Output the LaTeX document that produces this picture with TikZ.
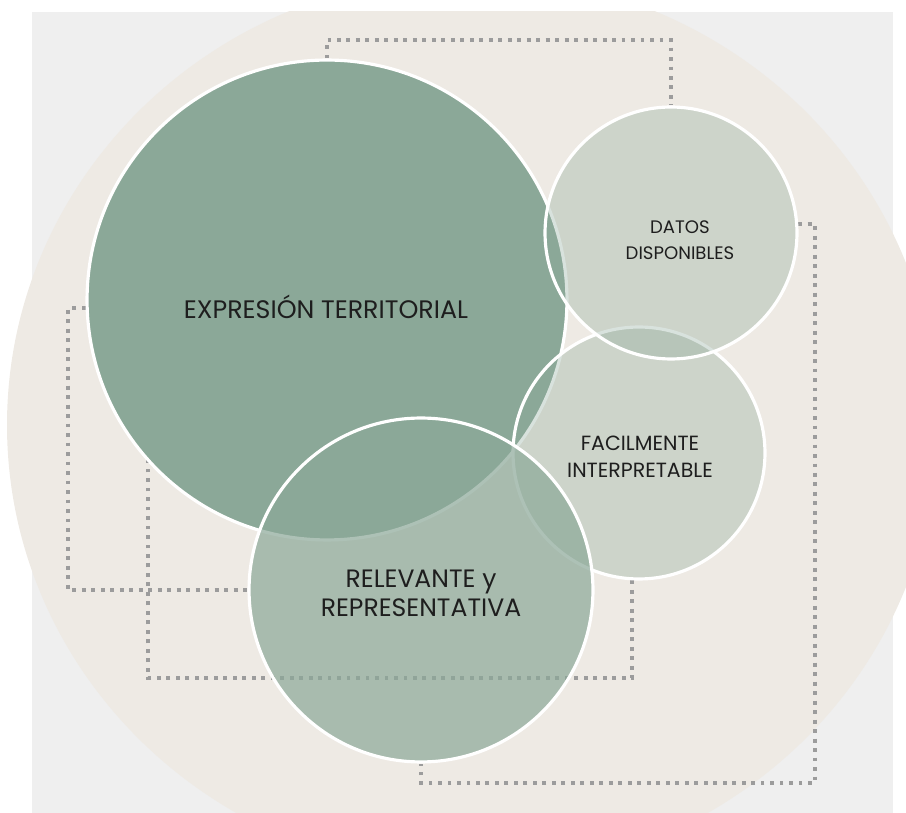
\documentclass[tikz,border=0pt]{standalone}
\usepackage{fontspec}
\setmainfont{Poppins}
\definecolor{bggray}{HTML}{EFEFEF}
\definecolor{beige}{HTML}{EEEAE4}
\definecolor{sage}{HTML}{8BA898}
\definecolor{dotgray}{HTML}{9C9C9C}
\definecolor{txt}{HTML}{1E1E1E}
\pgfdeclarelayer{back}
\pgfdeclarelayer{links}
\pgfsetlayers{back,links,main}
\begin{document}
\begin{tikzpicture}[x=0.02cm,y=-0.02cm,
  bubble/.style={circle, draw=white, line width=1.8pt, inner sep=0pt, fill=sage},
  lbl/.style={align=center, text=txt, inner sep=0pt},
  conn/.style={draw=dotgray, line width=2.2pt, dash pattern=on 2.2pt off 3.2pt},
]
\useasboundingbox (0,0) rectangle (906,813);
\begin{pgfonlayer}{back}
\fill[bggray] (32,12) rectangle (893,813);
\begin{scope}
  \clip (0,12) rectangle (906,813);
  \fill[beige] (472,425) ellipse [x radius=465, y radius=450];
\end{scope}
\end{pgfonlayer}
% connector corners
\coordinate (a1) at (327,40);
\coordinate (b1) at (815,783);
\coordinate (c1) at (68,590);
\coordinate (d1) at (148,678);
% circles
\node[bubble, minimum size=9.6cm] (big) at (327,300) {};
\node[bubble, fill opacity=0.33, minimum size=5.04cm] (facil) at (639,453) {};
\node[bubble, fill opacity=0.33, minimum size=5.04cm] (datos) at (671,233) {};
\node[bubble, fill opacity=0.7, minimum size=6.88cm] (relev) at (421,590) {};
% texts
\node[lbl, font=\fontsize{14.4}{17}\selectfont] (bigtext) at (326,307) {EXPRESIÓN TERRITORIAL};
\node[lbl, font=\fontsize{10.3}{14.7}\selectfont] (datostext) at (680,240) {DATOS\\DISPONIBLES};
\node[lbl, font=\fontsize{11.7}{15.3}\selectfont] (faciltext) at (640,457) {FACILMENTE\\INTERPRETABLE};
\node[lbl, font=\fontsize{14.3}{16.4}\selectfont] (relevtext) at (421,593) {RELEVANTE y\\REPRESENTATIVA};
% connectors (under the circles)
\begin{pgfonlayer}{links}
\draw[conn] (big.north) -- (a1) -| (datos.north);
\draw[conn] (datos.4) -| (b1) -| (relev.south);
\draw[conn] (big.182) -| (c1) -- (relev.west);
\draw[conn] (facil.267) |- (d1) -- (d1 |- big.center);
\end{pgfonlayer}
\end{tikzpicture}
\end{document}
